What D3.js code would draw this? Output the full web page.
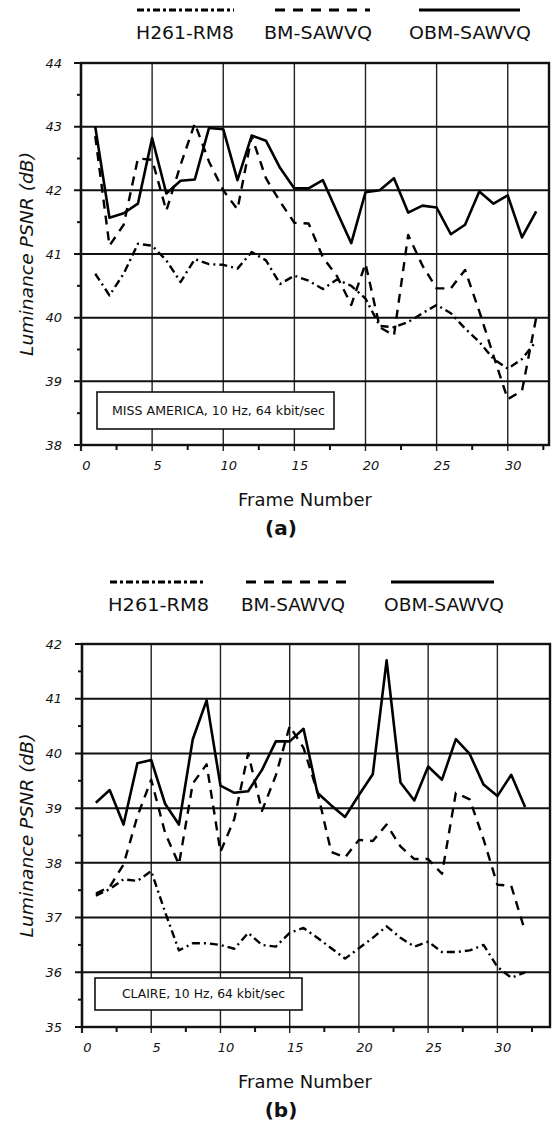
<!doctype html>
<html>
<head>
<meta charset="UTF-8">
<title>Luminance PSNR</title>
<script src="https://d3js.org/d3.v7.min.js"></script>
<style>
  body { margin: 0; background: #fff; }
  svg text { fill: #111; font-family: "DejaVu Sans", sans-serif; }
</style>
</head>
<body>
<svg id="chart" width="553" height="1122"></svg>
<script>
// frame numbers (x categories)
var frames = [1, 2, 3, 4, 5, 6, 7, 8, 9, 10, 11, 12, 13, 14, 15, 16,
              17, 18, 19, 20, 21, 22, 23, 24, 25, 26, 27, 28, 29, 30, 31, 32];

var seriesNames = ["H261-RM8", "BM-SAWVQ", "OBM-SAWVQ"];

// (a) MISS AMERICA
var missH261 = [40.69, 40.35, 40.69, 41.16, 41.13, 40.90, 40.56, 40.92, 40.84, 40.83, 40.77, 41.03, 40.90, 40.53, 40.66, 40.58,
                40.45, 40.60, 40.50, 40.30, 39.87, 39.85, 39.93, 40.07, 40.20, 40.07, 39.83, 39.62, 39.35, 39.20, 39.35, 39.63];
var missBM   = [42.85, 41.13, 41.46, 42.50, 42.48, 41.68, 42.40, 43.05, 42.45, 42.00, 41.70, 42.85, 42.19, 41.82, 41.49, 41.48,
                40.95, 40.65, 40.20, 40.85, 39.85, 39.72, 41.30, 40.82, 40.46, 40.46, 40.75, 40.10, 39.40, 38.72, 38.85, 40.00];
var missOBM  = [43.00, 41.57, 41.64, 41.79, 42.82, 41.95, 42.15, 42.17, 42.98, 42.96, 42.16, 42.86, 42.78, 42.35, 42.03, 42.03,
                42.16, 41.66, 41.17, 41.97, 42.00, 42.19, 41.65, 41.76, 41.73, 41.31, 41.46, 41.98, 41.79, 41.92, 41.26, 41.67];

// (b) CLAIRE
var claireH261 = [37.40, 37.52, 37.70, 37.67, 37.85, 37.10, 36.40, 36.53, 36.53, 36.50, 36.43, 36.72, 36.50, 36.47, 36.72, 36.81,
                  36.63, 36.44, 36.25, 36.44, 36.63, 36.84, 36.63, 36.47, 36.56, 36.37, 36.37, 36.40, 36.50, 36.10, 35.90, 36.00];
var claireBM   = [37.44, 37.56, 37.97, 38.85, 39.52, 38.55, 37.97, 39.45, 39.80, 38.20, 38.80, 40.00, 38.95, 39.60, 40.50, 40.10,
                  39.30, 38.20, 38.10, 38.42, 38.40, 38.70, 38.30, 38.07, 38.07, 37.80, 39.28, 39.16, 38.43, 37.60, 37.58, 36.75];
var claireOBM  = [39.10, 39.33, 38.70, 39.82, 39.88, 39.08, 38.70, 40.26, 40.97, 39.41, 39.28, 39.31, 39.70, 40.22, 40.22, 40.45,
                  39.28, 39.05, 38.84, 39.24, 39.62, 41.70, 39.47, 39.14, 39.76, 39.52, 40.26, 39.99, 39.43, 39.22, 39.61, 39.02];

var xTicksA = [0, 5, 10, 15, 20, 25, 30];
var yTicksA = [38, 39, 40, 41, 42, 43, 44];
var yTicksB = [35, 36, 37, 38, 39, 40, 41, 42];

var svg = d3.select("#chart");

var styles = [
  { dash: "8,4,2,4", width: 2.4, legendDash: "7,3,3,3" },
  { dash: "9,7",     width: 2.4, legendDash: "10,8" },
  { dash: null,      width: 2.6, legendDash: null }
];

function panel(cfg) {
  var g = svg.append("g");
  var x = d3.scaleLinear().domain([0, cfg.xMax]).range([cfg.left, cfg.right]);
  var y = d3.scaleLinear().domain(cfg.yDomain).range([cfg.bottom, cfg.top]);

  // minor ticks
  var yMinor = d3.range(cfg.yDomain[0] + 0.5, cfg.yDomain[1], 1);
  g.selectAll(".ymin").data(yMinor).enter().append("line")
    .attr("x1", cfg.left - 4).attr("x2", cfg.left)
    .attr("y1", function (d) { return y(d); }).attr("y2", function (d) { return y(d); })
    .attr("stroke", "#111").attr("stroke-width", 2);
  var xMinor = d3.range(2.5, cfg.xMax, 5);
  g.selectAll(".xmin").data(xMinor).enter().append("line")
    .attr("x1", function (d) { return x(d); }).attr("x2", function (d) { return x(d); })
    .attr("y1", cfg.bottom).attr("y2", cfg.bottom + 5)
    .attr("stroke", "#111").attr("stroke-width", 2);

  // vertical grid
  g.selectAll(".vg").data(xTicksA).enter().append("line")
    .attr("x1", function (d) { return x(d); }).attr("x2", function (d) { return x(d); })
    .attr("y1", cfg.top).attr("y2", cfg.bottom + 6)
    .attr("stroke", "#222").attr("stroke-width", function (d) { return d === 0 ? 2.2 : 1.4; });

  // horizontal grid
  g.selectAll(".hg").data(cfg.yTicks).enter().append("line")
    .attr("x1", cfg.left - 7).attr("x2", cfg.right)
    .attr("y1", function (d) { return y(d); }).attr("y2", function (d) { return y(d); })
    .attr("stroke", "#111").attr("stroke-width", 2);

  // frame
  g.append("rect")
    .attr("x", cfg.left).attr("y", cfg.top)
    .attr("width", cfg.right - cfg.left).attr("height", cfg.bottom - cfg.top)
    .attr("fill", "none").attr("stroke", "#111").attr("stroke-width", 2.4);

  // axes labels
  var ya = d3.axisLeft(y).tickValues(cfg.yTicks).tickFormat(d3.format("d"))
    .tickSize(0).tickPadding(cfg.left - 62);
  g.append("g").attr("transform", "translate(" + cfg.left + ",0)").call(ya)
    .call(function (s) { s.select(".domain").remove(); })
    .selectAll("text").attr("font-size", 13).attr("font-style", "italic")
    .attr("font-family", "DejaVu Sans, sans-serif").attr("fill", "#222");

  var xa = d3.axisBottom(x).tickValues(xTicksA).tickFormat(d3.format("d"))
    .tickSize(0).tickPadding(16);
  g.append("g").attr("transform", "translate(0," + cfg.bottom + ")").call(xa)
    .call(function (s) { s.select(".domain").remove(); })
    .selectAll("text").attr("font-size", 13).attr("font-style", "italic").attr("dx", 5)
    .attr("font-family", "DejaVu Sans, sans-serif").attr("fill", "#222");

  // series
  var line = d3.line()
    .x(function (d, i) { return x(frames[i]); })
    .y(function (d) { return y(d); });
  cfg.series.forEach(function (s, k) {
    g.append("path").datum(s)
      .attr("d", line)
      .attr("fill", "none").attr("stroke", "#000")
      .attr("stroke-width", styles[k].width)
      .attr("stroke-linejoin", "round")
      .attr("stroke-dasharray", styles[k].dash);
  });

  // note box
  g.append("rect")
    .attr("x", cfg.note.x).attr("y", cfg.note.y)
    .attr("width", cfg.note.w).attr("height", cfg.note.h)
    .attr("fill", "#fff").attr("stroke", "#111").attr("stroke-width", 1.6);
  g.append("text")
    .attr("x", cfg.note.tx).attr("y", cfg.note.y + cfg.note.h / 2 + 4)
    .attr("font-size", 11.5)
    .attr("textLength", cfg.note.tl).attr("lengthAdjust", "spacingAndGlyphs")
    .text(cfg.note.text);

  // y title
  g.append("text")
    .attr("transform", "translate(33," + ((cfg.top + cfg.bottom) / 2) + ") rotate(-90)")
    .attr("text-anchor", "middle").attr("font-size", 18).attr("font-style", "italic")
    .attr("textLength", 204).attr("lengthAdjust", "spacingAndGlyphs")
    .attr("fill", "#333")
    .text("Luminance PSNR (dB)");

  // x title
  g.append("text")
    .attr("x", 305).attr("y", cfg.bottom + 61)
    .attr("text-anchor", "middle").attr("font-size", 17)
    .attr("textLength", 134).attr("lengthAdjust", "spacingAndGlyphs")
    .attr("fill", "#222")
    .text("Frame Number");

  g.append("text")
    .attr("x", 281).attr("y", cfg.bottom + 90)
    .attr("text-anchor", "middle").attr("font-size", 20).attr("font-weight", "bold")
    .attr("font-family", "Liberation Sans, Arial, sans-serif")
    .text(cfg.letter);

  // legend
  cfg.legend.forEach(function (lg, k) {
    g.append("line")
      .attr("x1", lg.x1).attr("x2", lg.x2)
      .attr("y1", cfg.legendY).attr("y2", cfg.legendY)
      .attr("stroke", "#000").attr("stroke-width", 3)
      .attr("stroke-dasharray", styles[k].legendDash);
    g.append("text")
      .attr("x", lg.tx).attr("y", cfg.legendY + 29)
      .attr("font-size", 17)
      .attr("textLength", lg.tl).attr("lengthAdjust", "spacingAndGlyphs")
      .attr("fill", "#222")
      .text(seriesNames[k]);
  });
}

panel({
  xMax: 32.9, yDomain: [38, 44], yTicks: yTicksA,
  left: 81, right: 549, top: 63, bottom: 445,
  series: [missH261, missBM, missOBM],
  note: { x: 97, y: 392, w: 237, h: 37, tx: 112, tl: 213, text: "MISS AMERICA, 10 Hz, 64 kbit/sec" },
  letter: "(a)",
  legendY: 10,
  legend: [
    { x1: 137, x2: 234, tx: 136, tl: 98 },
    { x1: 275, x2: 370, tx: 264, tl: 108 },
    { x1: 419, x2: 520, tx: 409, tl: 122 }
  ]
});

panel({
  xMax: 33.8, yDomain: [35, 42], yTicks: yTicksB,
  left: 82, right: 550, top: 644, bottom: 1027,
  series: [claireH261, claireBM, claireOBM],
  note: { x: 95, y: 978, w: 207, h: 32, tx: 122, tl: 163, text: "CLAIRE, 10 Hz, 64 kbit/sec" },
  letter: "(b)",
  legendY: 582,
  legend: [
    { x1: 110, x2: 206, tx: 108, tl: 101 },
    { x1: 246, x2: 347, tx: 241, tl: 104 },
    { x1: 391, x2: 494, tx: 384, tl: 120 }
  ]
});
</script>
</body>
</html>
